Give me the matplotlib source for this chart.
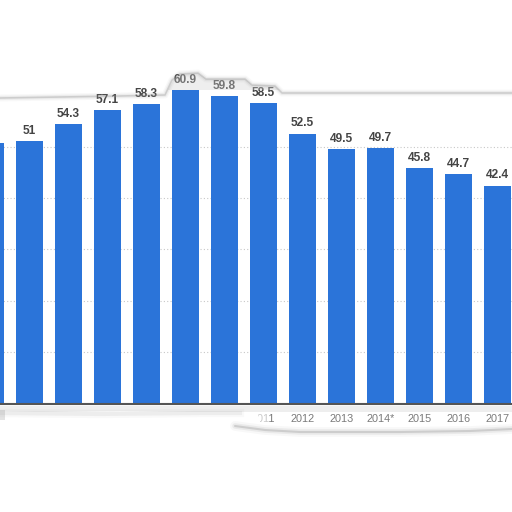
import numpy as np
import matplotlib.pyplot as plt
from matplotlib.patches import Polygon

# --- data ---
years = ["2004", "2005", "2006", "2007", "2008", "2009", "2010", "2011",
         "2012", "2013", "2014*", "2015", "2016", "2017"]
values = [50.6, 51, 54.3, 57.1, 58.3, 60.9, 59.8, 58.5,
          52.5, 49.5, 49.7, 45.8, 44.7, 42.4]
grid_levels = [10, 20, 30, 40, 50]

BLUE = "#2b74d9"

fig = plt.figure(figsize=(5.12, 5.12), dpi=100)
fig.patch.set_facecolor("white")

# main axes: spans full width, baseline at ~404px from top
base_px = 403.5
ax = fig.add_axes([0, (512 - base_px) / 512, 1, base_px / 512])
x = np.arange(len(years))

for g in grid_levels:
    ax.axhline(g, color="#c8c8c8", lw=0.8, ls=(0, (1, 2)), zorder=1)

bars = ax.bar(x, values, width=27 / 39, color=BLUE, zorder=3)
for xi, v in zip(x, values):
    ax.annotate(f"{v:g}", (xi, v), xytext=(0, 3), textcoords="offset points",
                ha="center", va="bottom", fontsize=8.6, fontweight="bold",
                family="Liberation Sans", color="#444444", zorder=4)

ax.set_xticks(x)
ax.set_xticklabels(years, fontsize=7.8, family="Liberation Sans", color="#7a7a7a")
ax.tick_params(axis="x", length=0, pad=7.5)
ax.set_yticks([])
# limits after the ticks, otherwise set_xticks widens the view
ax.set_xlim(9.5 / 39, 521.5 / 39)
ax.set_ylim(0, base_px / 5.14)
for s in ["top", "left", "right"]:
    ax.spines[s].set_visible(False)
ax.spines["bottom"].set_color("#555555")
ax.spines["bottom"].set_linewidth(1.5)
ax.spines["bottom"].set_zorder(5)
ax.patch.set_alpha(0)

# --- overlay for the torn paper edges, in pixel coordinates ---
ov = fig.add_axes([0, 0, 1, 1], zorder=10)
ov.set_xlim(0, 512)
ov.set_ylim(512, 0)
ov.axis("off")
ov.patch.set_alpha(0)

# top edge with bump around the highest labels
top_edge = [(0, 98), (60, 97), (120, 96), (165, 95), (172, 80), (180, 74),
            (198, 73), (206, 79), (245, 79), (252, 85), (275, 86), (282, 93),
            (350, 93), (430, 93), (512, 93)]
tx, ty = zip(*top_edge)
for w, a in [(5, 0.05), (3, 0.1), (1.2, 0.3)]:
    ov.plot(tx, ty, color="#888888", lw=w, alpha=a, solid_capstyle="round")
bump = Polygon([(168, 90), (174, 79), (181, 74), (198, 73), (206, 79),
                (245, 79), (252, 85), (275, 86), (280, 90)],
               closed=True, fc="#d0d0d0", ec="none", alpha=0.35)
ov.add_patch(bump)

# bottom edge: shadow band under the axis line
ov.fill_between([0, 512], 405.5, 412, color="#cfcfcf", alpha=0.35, lw=0)

# white mask over the torn-away left label area
mask = Polygon([(0, 411), (40, 412), (120, 411), (200, 412), (240, 412),
                (258, 413), (262, 429), (300, 431), (512, 431), (512, 512), (0, 512)],
               closed=True, fc="white", ec="none")
ov.add_patch(mask)
# faded remains of the 2011 label
ov.add_patch(Polygon([(258, 413), (269, 413), (269, 429), (262, 429)],
                     closed=True, fc="white", ec="none", alpha=0.6))

# label strip shadow at the bottom right
for w, a in [(7, 0.06), (4, 0.12), (1.5, 0.3)]:
    ov.plot([235, 265, 300, 400, 470, 512], [426, 430, 432, 432, 431, 429],
            color="#8c8c8c", lw=w, alpha=a, solid_capstyle="round")
for w, a in [(6, 0.05), (3, 0.1)]:
    ov.plot([0, 100, 200, 240], [413, 414, 413, 413], color="#8c8c8c", lw=w, alpha=a)
ov.fill_between([0, 5], 410, 420, color="#b0b0b0", alpha=0.35, lw=0)

fig.savefig("out.png", dpi=100, facecolor="white")
